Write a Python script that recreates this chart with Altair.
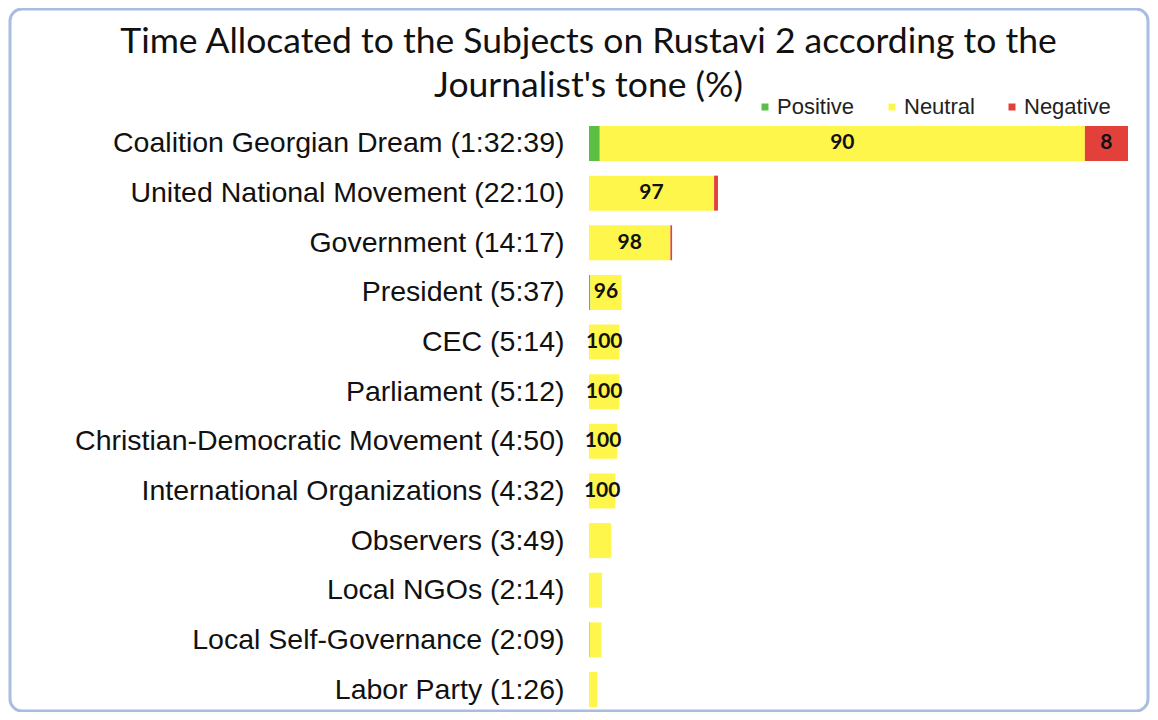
import altair as alt
import pandas as pd

subjects = [
    "Coalition Georgian Dream (1:32:39)",
    "United National Movement (22:10)",
    "Government (14:17)",
    "President (5:37)",
    "CEC (5:14)",
    "Parliament (5:12)",
    "Christian-Democratic Movement (4:50)",
    "International Organizations (4:32)",
    "Observers (3:49)",
    "Local NGOs (2:14)",
    "Local Self-Governance (2:09)",
    "Labor Party (1:26)",
]
seconds = [5559, 1330, 857, 337, 314, 312, 290, 272, 229, 134, 129, 86]
positive = [2, 0, 0, 4, 0, 0, 0, 0, 0, 0, 5, 0]
neutral = [90, 97, 98, 96, 100, 100, 100, 100, 100, 100, 95, 100]
negative = [8, 3, 2, 0, 0, 0, 0, 0, 0, 0, 0, 0]
neutral_labelled = [True] * 8 + [False] * 4
negative_labelled = [True] + [False] * 11
tones = ["Positive", "Neutral", "Negative"]
colors = ["#5bbf45", "#fff64c", "#e2403a"]

rows = []
for i, s in enumerate(subjects):
    for k, (tone, vals) in enumerate(zip(tones, [positive, neutral, negative])):
        pct = vals[i]
        if tone == "Neutral" and neutral_labelled[i]:
            lab = str(pct)
        elif tone == "Negative" and negative_labelled[i]:
            lab = str(pct)
        else:
            lab = ""
        rows.append({"subject": s, "seconds": seconds[i], "tone": tone,
                     "order": k, "pct": pct, "label": lab})
df = pd.DataFrame(rows)

base = (
    alt.Chart(df)
    .transform_calculate(seg="datum.seconds * datum.pct / 100")
    .transform_stack(stack="seg", groupby=["subject"], as_=["x0", "x1"],
                     sort=[alt.SortField("order", order="ascending")])
    .transform_calculate(mid="(datum.x0 + datum.x1) / 2")
)

yaxis = alt.Axis(title=None, domain=False, ticks=False, grid=False,
                 labelFontSize=28.5, labelFont="Liberation Sans",
                 labelColor="#111111", labelPadding=25, labelLimit=0)
yscale = alt.Scale(paddingInner=0.295, paddingOuter=0)
xscale = alt.Scale(domain=[0, max(seconds)], nice=False, zero=True)

bars = base.mark_bar().encode(
    y=alt.Y("subject:N", sort=subjects, scale=yscale, axis=yaxis),
    x=alt.X("x0:Q", scale=xscale, axis=None),
    x2="x1:Q",
    color=alt.Color(
        "tone:N", scale=alt.Scale(domain=tones, range=colors),
        legend=alt.Legend(title=None, orient="none", legendX=165, legendY=-30,
                          direction="horizontal", symbolType="square",
                          symbolSize=49, symbolStrokeWidth=0,
                          labelFont="Liberation Sans", labelFontSize=22,
                          labelColor="#222222", columnPadding=26,
                          labelOffset=1),
    ),
)

text = base.mark_text(font="Lato", fontWeight="bold", fontSize=21,
                      color="#111111").encode(
    y=alt.Y("subject:N", sort=subjects, scale=yscale, axis=yaxis),
    x=alt.X("mid:Q", scale=xscale, axis=None),
    text="label:N",
)

frame = alt.Chart(pd.DataFrame({"k": [0]})).mark_rect(
    fillOpacity=0, stroke="#a8bde0", strokeWidth=3, cornerRadius=12
).encode(x=alt.value(-579), x2=alt.value(559), y=alt.value(-117), y2=alt.value(585))

chart = (
    alt.layer(frame, bars, text)
    .properties(
        width=539, height=581,
        autosize="none",
        padding={"left": 581, "top": 118, "right": 22, "bottom": 5},
        view=alt.ViewBackground(strokeWidth=0, stroke="transparent"),
        title=alt.TitleParams(
            text=["Time Allocated to the Subjects on Rustavi 2 according to the",
                  "Journalist's tone (%)"],
            font="Lato", fontSize=35.5, fontWeight="normal", color="#111111",
            anchor="middle", frame="group", dx=-270, dy=97, offset=0,
            lineHeight=44,
        ),
    )
    .configure_view(strokeWidth=0, stroke="transparent")
    .configure(background="white")
)

chart.save("out.html", embed_options={"renderer": "svg", "actions": False})
